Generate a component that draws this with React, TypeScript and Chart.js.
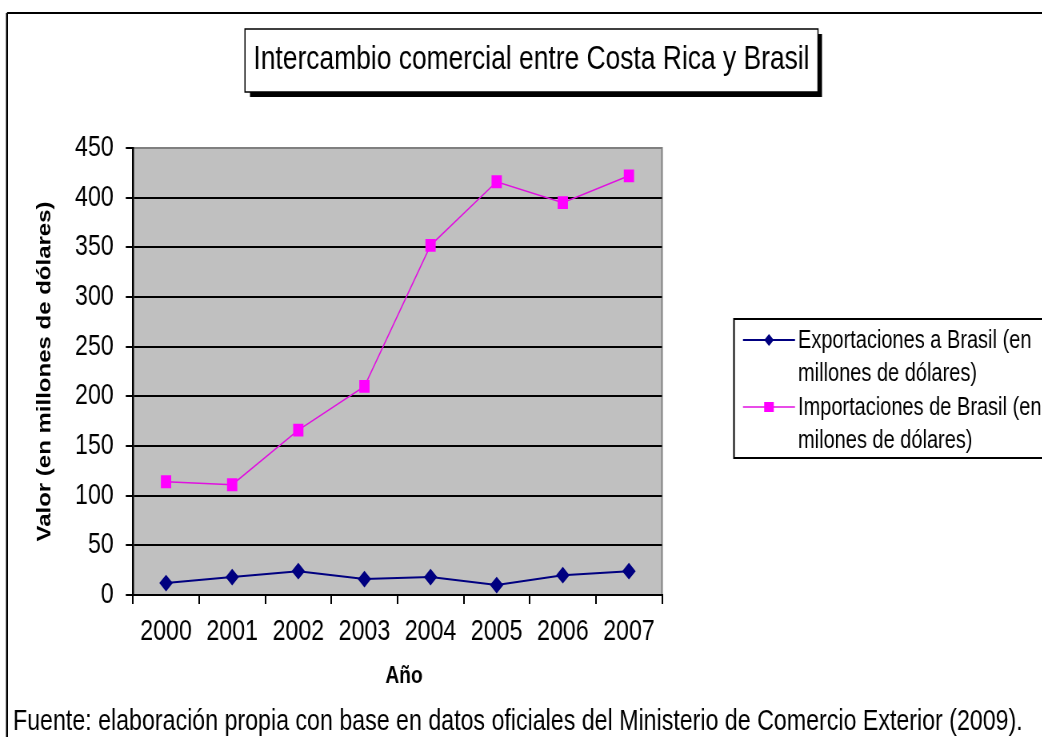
import React, { useEffect, useRef } from "react";
import { Chart, registerables } from "chart.js";

Chart.register(...registerables);

const years = ["2000", "2001", "2002", "2003", "2004", "2005", "2006", "2007"];
const exportaciones = [12, 18, 24, 16, 18, 10, 20, 24];
const importaciones = [114, 111, 166, 210, 352, 416, 395, 422];
const yTickValues = [0, 50, 100, 150, 200, 250, 300, 350, 400, 450];

const titleText = "Intercambio comercial entre Costa Rica y Brasil";
const yTitle = "Valor (en millones de dólares)";
const xTitle = "Año";
const footerText =
  "Fuente: elaboración propia con base en datos oficiales del Ministerio de Comercio Exterior (2009).";
const legendExport = ["Exportaciones a Brasil (en", "millones de dólares)"];
const legendImport = ["Importaciones de Brasil (en", "milones de dólares)"];

const SX = 0.8; // horizontal compression of the whole picture
const W = 1042;
const H = 737;
const LW = Math.round(W / SX);
const X = (v: number) => v / SX;
const FONT = "'Liberation Sans', Arial, sans-serif";

const EXP_COLOR = "#000080";
const IMP_LINE = "#E010E0";
const IMP_POINT = "#FF00FF";

function diamond(ctx: CanvasRenderingContext2D, x: number, y: number, r: number) {
  ctx.beginPath();
  ctx.moveTo(x, y - r);
  ctx.lineTo(x + r, y);
  ctx.lineTo(x, y + r);
  ctx.lineTo(x - r, y);
  ctx.closePath();
  ctx.fill();
}

const decorPlugin = {
  id: "decor",
  beforeDraw(chart: any) {
    const ctx = chart.ctx as CanvasRenderingContext2D;
    const a = chart.chartArea;
    ctx.save();
    ctx.fillStyle = "#fff";
    ctx.fillRect(0, 0, chart.width, chart.height);
    // outer frame
    ctx.strokeStyle = "#000";
    ctx.lineWidth = 2;
    ctx.beginPath();
    ctx.moveTo(X(7), 13);
    ctx.lineTo(chart.width + 2, 13);
    ctx.stroke();
    ctx.lineWidth = 2.5;
    ctx.beginPath();
    ctx.moveTo(X(7), 13);
    ctx.lineTo(X(7), chart.height + 2);
    ctx.stroke();
    // plot background
    ctx.fillStyle = "#C0C0C0";
    ctx.fillRect(a.left, a.top, a.right - a.left, a.bottom - a.top);
    ctx.strokeStyle = "#808080";
    ctx.lineWidth = 2;
    ctx.beginPath();
    ctx.moveTo(a.left, a.top);
    ctx.lineTo(a.right, a.top);
    ctx.lineTo(a.right, a.bottom);
    ctx.stroke();
    ctx.restore();
  },
  afterDraw(chart: any) {
    const ctx = chart.ctx as CanvasRenderingContext2D;
    const a = chart.chartArea;
    ctx.save();
    // title box with shadow
    ctx.fillStyle = "#000";
    ctx.fillRect(X(250), 34, X(822) - X(250), 63);
    ctx.fillStyle = "#fff";
    ctx.fillRect(X(245), 29, X(818) - X(245), 63);
    ctx.strokeStyle = "#000";
    ctx.lineWidth = 1.5;
    ctx.strokeRect(X(245), 29, X(818) - X(245), 63);
    ctx.fillStyle = "#000";
    ctx.font = `33px ${FONT}`;
    ctx.textAlign = "center";
    ctx.textBaseline = "alphabetic";
    ctx.fillText(titleText, X(531.5), 69);

    // y-axis title
    ctx.save();
    ctx.translate(X(45), (a.top + a.bottom) / 2);
    ctx.rotate(-Math.PI / 2);
    ctx.font = `bold 24px ${FONT}`;
    ctx.textAlign = "center";
    ctx.textBaseline = "middle";
    ctx.fillText(yTitle, 0, 0);
    ctx.restore();

    // x-axis title
    ctx.font = `bold 24px ${FONT}`;
    ctx.textAlign = "center";
    ctx.textBaseline = "middle";
    ctx.fillText(xTitle, X(404), 676);

    // legend
    const dy = 3;
    ctx.strokeStyle = "#000";
    ctx.lineWidth = 2;
    ctx.strokeRect(X(734), 316 + dy, chart.width + 10 - X(734), 139);
    ctx.font = `25px ${FONT}`;
    ctx.textAlign = "left";
    ctx.textBaseline = "alphabetic";
    ctx.fillStyle = "#000";
    ctx.fillText(legendExport[0], X(798), 345 + dy);
    ctx.fillText(legendExport[1], X(798), 378 + dy);
    ctx.fillText(legendImport[0], X(798), 412 + dy);
    ctx.fillText(legendImport[1], X(798), 445 + dy);
    // legend samples
    ctx.lineWidth = 2;
    ctx.strokeStyle = EXP_COLOR;
    ctx.beginPath();
    ctx.moveTo(X(743), 337 + dy);
    ctx.lineTo(X(795), 337 + dy);
    ctx.stroke();
    ctx.fillStyle = EXP_COLOR;
    diamond(ctx, X(769), 337 + dy, 6);
    ctx.strokeStyle = IMP_LINE;
    ctx.lineWidth = 1.5;
    ctx.beginPath();
    ctx.moveTo(X(743), 404 + dy);
    ctx.lineTo(X(795), 404 + dy);
    ctx.stroke();
    ctx.fillStyle = IMP_POINT;
    ctx.fillRect(X(769) - 6, 399 + dy, 12, 10);

    // footer
    ctx.fillStyle = "#000";
    ctx.font = `29px ${FONT}`;
    ctx.textAlign = "left";
    ctx.textBaseline = "alphabetic";
    ctx.fillText(footerText, X(13), 730);
    ctx.restore();
  },
};

export default function App() {
  const ref = useRef<HTMLCanvasElement>(null);
  useEffect(() => {
    if (!ref.current) return;
    const chart = new Chart(ref.current, {
      type: "line",
      data: {
        labels: years,
        datasets: [
          {
            label: legendExport.join(" "),
            data: exportaciones,
            borderColor: EXP_COLOR,
            backgroundColor: EXP_COLOR,
            borderWidth: 2,
            pointStyle: "rectRot",
            pointRadius: 7,
            pointBackgroundColor: EXP_COLOR,
            pointBorderColor: EXP_COLOR,
            tension: 0,
          },
          {
            label: legendImport.join(" "),
            data: importaciones,
            borderColor: IMP_LINE,
            backgroundColor: IMP_POINT,
            borderWidth: 1.5,
            pointStyle: "rect",
            pointRadius: 8,
            pointBackgroundColor: IMP_POINT,
            pointBorderColor: IMP_POINT,
            tension: 0,
          },
        ],
      },
      options: {
        responsive: false,
        animation: false,
        devicePixelRatio: 1,
        layout: {
          padding: { left: 0, top: 148, right: LW - X(662), bottom: H - 595 - 60 },
        },
        plugins: {
          legend: { display: false },
          title: { display: false },
          tooltip: { enabled: false },
        },
        scales: {
          x: {
            offset: true,
            grid: {
              offset: true,
              drawOnChartArea: false,
              color: "#000",
              lineWidth: 2,
              tickLength: 9,
            },
            border: { color: "#000", width: 2 },
            ticks: {
              color: "#000",
              font: { family: FONT, size: 29 },
              padding: 11,
              maxRotation: 0,
              autoSkip: false,
            },
            afterFit: (s: any) => {
              s.height = 60;
            },
          },
          y: {
            min: 0,
            max: 450,
            afterBuildTicks: (s: any) => {
              s.ticks = yTickValues.map((v) => ({ value: v }));
            },
            grid: {
              color: (c: any) => (c.tick && c.tick.value === 450 ? "#808080" : "#000"),
              tickColor: "#000",
              lineWidth: 2,
              tickLength: 9,
            },
            border: { color: "#000", width: 2.5 },
            ticks: {
              color: "#000",
              font: { family: FONT, size: 29 },
              padding: 15,
            },
            afterFit: (s: any) => {
              s.width = X(133);
            },
          },
        },
      },
      plugins: [decorPlugin],
    });
    return () => chart.destroy();
  }, []);

  return (
    <div
      style={{
        position: "absolute",
        left: 0,
        top: 0,
        width: W,
        height: H,
        overflow: "hidden",
        background: "#fff",
      }}
    >
      <div style={{ width: LW, height: H, transform: `scaleX(${SX})`, transformOrigin: "0 0" }}>
        <canvas ref={ref} width={LW} height={H} style={{ display: "block" }} />
      </div>
    </div>
  );
}
